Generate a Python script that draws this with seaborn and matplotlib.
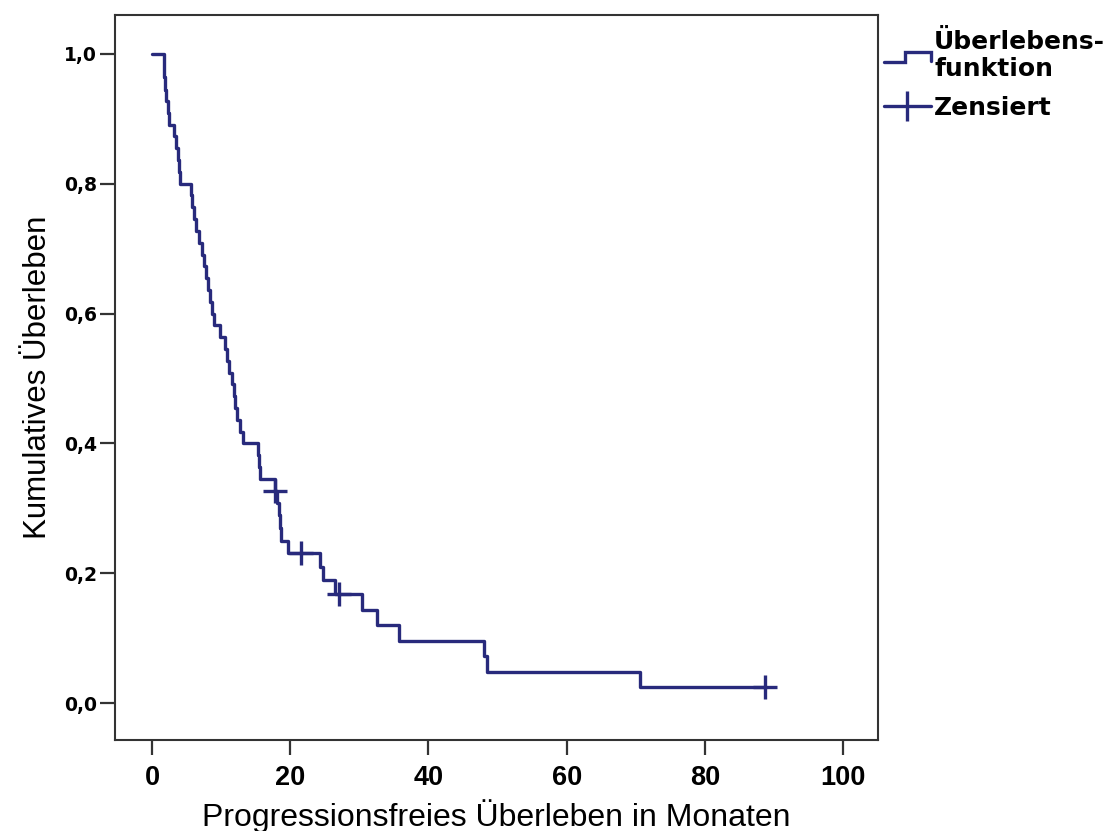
import matplotlib
matplotlib.use("Agg")
import matplotlib.pyplot as plt
import seaborn as sns
from matplotlib.lines import Line2D
from matplotlib.legend_handler import HandlerBase
from matplotlib.font_manager import FontProperties

# Kaplan-Meier step curve (months, cumulative survival)
months = [0.0, 1.7, 1.9, 2.1, 2.3, 2.4, 3.2, 3.5, 3.7, 3.9, 4.1,
          5.6, 5.8, 6.1, 6.4, 6.8, 7.2, 7.5, 7.8, 8.1, 8.4, 8.7, 9.0,
          9.9, 10.6, 10.9, 11.2, 11.6, 11.9, 12.0, 12.3, 12.7, 13.2,
          15.3, 15.5, 15.7, 17.8, 18.1, 18.4, 18.5, 18.7, 19.7,
          24.3, 24.7, 26.5, 30.4, 32.6, 35.7, 48.0, 48.5, 70.6, 88.7]
survival = [1.000, 0.964, 0.945, 0.927, 0.909, 0.891, 0.873, 0.855, 0.836, 0.818, 0.800,
            0.782, 0.764, 0.745, 0.727, 0.709, 0.691, 0.673, 0.655, 0.636, 0.618, 0.600, 0.582,
            0.564, 0.545, 0.527, 0.509, 0.491, 0.473, 0.455, 0.436, 0.418, 0.400,
            0.382, 0.364, 0.345, 0.327, 0.308, 0.289, 0.269, 0.250, 0.231,
            0.210, 0.189, 0.168, 0.144, 0.120, 0.096, 0.072, 0.048, 0.024, 0.024]

# censored observations
censor_months = [17.8, 21.6, 27.0, 88.7]
censor_survival = [0.327, 0.231, 0.168, 0.024]

x_ticks = [0, 20, 40, 60, 80, 100]
y_ticks = [0.0, 0.2, 0.4, 0.6, 0.8, 1.0]
y_tick_labels = ["0,0", "0,2", "0,4", "0,6", "0,8", "1,0"]

LINE_COLOR = "#282a7c"
SPINE_COLOR = "#333333"

sns.set_theme(style="white")
plt.rcParams["font.family"] = ["Liberation Sans", "DejaVu Sans"]
plt.rcParams["text.color"] = "black"
plt.rcParams["axes.labelcolor"] = "black"
plt.rcParams["xtick.color"] = "black"
plt.rcParams["ytick.color"] = "black"


class StepHandler(HandlerBase):
    """Legend key drawn as a small step, like SPSS does."""
    def create_artists(self, legend, orig_handle, xdescent, ydescent,
                       width, height, fontsize, trans):
        x0 = -xdescent
        lo = -ydescent + height * 0.15
        hi = -ydescent + height * 0.75
        xs = [x0, x0 + width * 0.45, x0 + width * 0.45, x0 + width, x0 + width]
        ys = [lo, lo, hi, hi, lo + (hi - lo) * 0.1]
        line = Line2D(xs, ys, color=orig_handle.get_color(),
                      lw=orig_handle.get_linewidth(), solid_joinstyle="miter")
        line.set_transform(trans)
        return [line]


fig = plt.figure(figsize=(11.12, 8.31), dpi=100)
ax = fig.add_axes([115 / 1112, 1 - 740 / 831, (878 - 115) / 1112, (740 - 15) / 831])

sns.lineplot(x=months, y=survival, ax=ax, color=LINE_COLOR, linewidth=2.4,
             drawstyle="steps-post", estimator=None, sort=False)
sns.scatterplot(x=censor_months, y=censor_survival, ax=ax, marker="+",
                s=300, color=LINE_COLOR, linewidth=2.4, zorder=3)

ax.set_xlim(-5.35, 105.05)
ax.set_ylim(-0.057, 1.060)

ax.set_xticks(x_ticks, labels=[str(v) for v in x_ticks])
ax.set_yticks(y_ticks, labels=y_tick_labels)
ax.tick_params(axis="both", direction="out", length=11, width=1.6,
               color=SPINE_COLOR, left=True, bottom=True)
ax.tick_params(axis="x", pad=7)
ax.tick_params(axis="y", pad=2)

xfont = FontProperties(family=["Liberation Sans Narrow", "Liberation Sans", "DejaVu Sans"],
                       weight="bold", size=19.5)
yfont = FontProperties(family=["DejaVu Sans"], weight="bold", size=13.5)
for lbl in ax.get_xticklabels():
    lbl.set_fontproperties(xfont)
for lbl in ax.get_yticklabels():
    lbl.set_fontproperties(yfont)

for side in ["left", "right", "top", "bottom"]:
    ax.spines[side].set_visible(True)
    ax.spines[side].set_color(SPINE_COLOR)
    ax.spines[side].set_linewidth(1.5)

ax.set_xlabel("Progressionsfreies Überleben in Monaten", fontsize=23, labelpad=6)
ax.set_ylabel("Kumulatives Überleben", fontsize=22.5, labelpad=8)

step_handle = Line2D([], [], color=LINE_COLOR, lw=2.4)
cens_handle = Line2D([], [], color=LINE_COLOR, lw=2.4, marker="|",
                     markersize=22, markeredgewidth=2.4)
leg = ax.legend([step_handle, cens_handle], ["Überlebens-\nfunktion", "Zensiert"],
                handler_map={step_handle: StepHandler()},
                loc="upper left", bbox_to_anchor=(1.0, 0.988), borderaxespad=0.0,
                frameon=False, handlelength=1.85, handletextpad=0.15,
                labelspacing=0.6, borderpad=0.25,
                prop=FontProperties(family=["DejaVu Sans"], weight="bold", size=18))
for t in leg.get_texts():
    t.set_linespacing(1.15)

fig.savefig("out.png", dpi=100)
